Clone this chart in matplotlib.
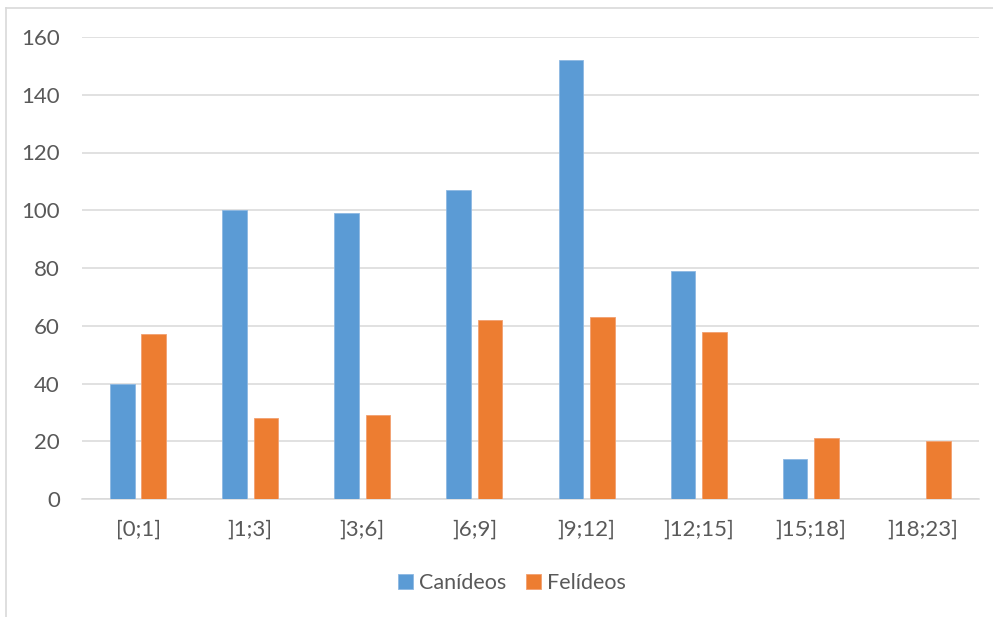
import matplotlib.pyplot as plt
import numpy as np

# 数据
categorias = ['[0;1]', ']1;3]', ']3;6]', ']6;9]', ']9;12]', ']12;15]', ']15;18]', ']18;23]']
canideos = [40, 100, 99, 107, 152, 79, 14, 0]
felideos = [57, 28, 29, 62, 63, 58, 21, 20]
y_ticks = [0, 20, 40, 60, 80, 100, 120, 140, 160]

plt.rcParams['font.family'] = ['Lato', 'DejaVu Sans']
cor_texto = '#595959'
cor_grade = '#D9D9D9'

fig = plt.figure(figsize=(9.93, 6.17), dpi=100)
ax = fig.add_axes([82 / 993, 118 / 617, (979 - 82) / 993, 462 / 617])

x = np.arange(len(categorias))
largura = 0.22
desvio = 0.14
ax.bar(x - desvio, canideos, largura, color='#5B9BD5', edgecolor='#8DB8E2', linewidth=0.6,
       label='Canídeos', zorder=3)
ax.bar(x + desvio, felideos, largura, color='#ED7D31', edgecolor='#F2A070', linewidth=0.6,
       label='Felídeos', zorder=3)

ax.set_xlim(-0.5, len(categorias) - 0.5)
ax.set_ylim(0, 160)
ax.set_yticks(y_ticks)
ax.set_xticks(x)
ax.set_xticklabels(categorias)
ax.yaxis.grid(True, color=cor_grade, linewidth=1.1, zorder=0)
ax.tick_params(axis='both', length=0, labelsize=16, colors=cor_texto)
ax.tick_params(axis='y', pad=16)
ax.tick_params(axis='x', pad=15)
for lado in ['top', 'right', 'left']:
    ax.spines[lado].set_visible(False)
ax.spines['bottom'].set_color(cor_grade)
ax.spines['bottom'].set_linewidth(1.1)

leg = ax.legend(loc='center', bbox_to_anchor=(512 / 993, 1 - 583 / 617),
                bbox_transform=fig.transFigure, ncol=2, frameon=False,
                fontsize=15.5, handlelength=0.7, handleheight=0.7,
                handletextpad=0.3, columnspacing=0.9)
for t in leg.get_texts():
    t.set_color(cor_texto)

# borda cinza do gráfico
fig.add_artist(plt.Line2D([6 / 993, 1], [1 - 8 / 617, 1 - 8 / 617], color=cor_grade, linewidth=1.2))
fig.add_artist(plt.Line2D([6 / 993, 6 / 993], [0, 1 - 8 / 617], color=cor_grade, linewidth=1.2))

fig.savefig('out.png', dpi=100)
